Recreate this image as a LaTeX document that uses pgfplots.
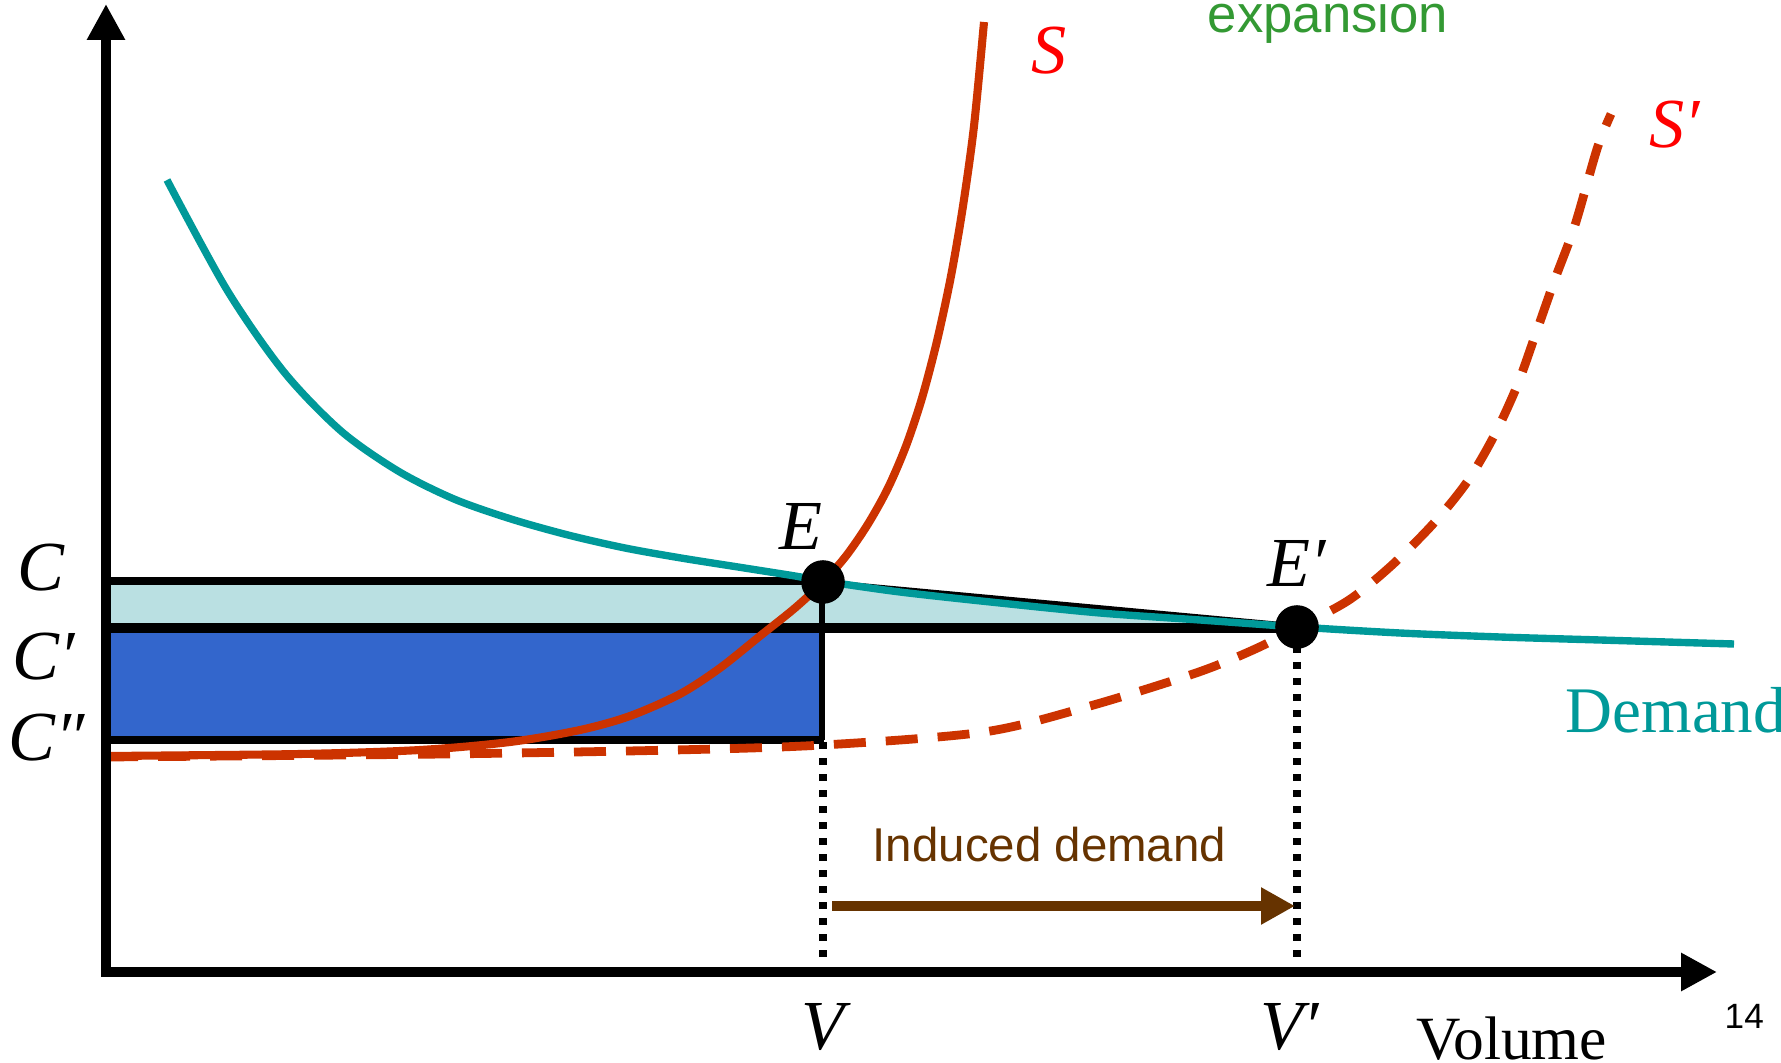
\documentclass[border=0pt]{standalone}
\usepackage{pgfplots}
\pgfplotsset{compat=1.18}
\usepackage{fontspec}
\setmainfont{Liberation Serif}
\newfontfamily\arial{Liberation Sans}
\usetikzlibrary{arrows.meta}

\definecolor{teal}{RGB}{0,153,153}
\definecolor{supply}{RGB}{204,51,0}
\definecolor{lightfill}{RGB}{186,224,226}
\definecolor{darkfill}{RGB}{51,102,204}
\definecolor{brownc}{RGB}{102,51,0}
\definecolor{greenc}{RGB}{51,153,51}

\newcommand{\lab}{\fontsize{20}{24}\selectfont\itshape}

\begin{document}
\begin{tikzpicture}
\begin{axis}[
  scale only axis, width=17.81cm, height=10.63cm,
  xmin=0, xmax=1781, ymin=0, ymax=1063, y dir=reverse,
  axis lines=none, clip=false,
]
% shaded areas
\addplot[fill=lightfill, draw=none] coordinates {(106,581) (823,581) (1298,627) (106,627)} -- cycle;
\addplot[fill=darkfill, draw=none] coordinates {(106,628) (822,628) (822,740) (106,740)} -- cycle;

% outlines
\addplot[black, line width=2.4pt] coordinates {(106,581) (823,581)};
\addplot[black, line width=2.6pt] coordinates {(106,628) (1298,628)};
\addplot[black, line width=2.4pt] coordinates {(106,740) (824,740)};
\addplot[black, line width=1.9pt] coordinates {(822,581) (822,740)};
\addplot[black, line width=1.4pt] coordinates {(823,582) (1298,626)};

% dotted drops
\addplot[black, line width=2.1pt, dash pattern=on 0.07cm off 0.09cm] coordinates {(823,742) (823,966)};
\addplot[black, line width=2.1pt, dash pattern=on 0.07cm off 0.09cm] coordinates {(1297,630) (1297,966)};

% supply S
\addplot[supply, line width=2.3pt, smooth] coordinates {
  (106,756) (300,754) (420,750) (510,742) (580,730) (630,716) (680,694)
  (720,668) (760,636) (795,608) (823,582) (846,556) (868,524) (888,488)
  (906,446) (922,398) (937,341) (951,276) (963,206) (974,126) (984,22)
};
% supply S'
\addplot[supply, line width=2.5pt, smooth, dash pattern=on 0.32cm off 0.2cm] coordinates {
  (106,757) (444,754) (674,750) (823,745) (984,732) (1090,706) (1196,673)
  (1253,650) (1299,627) (1349,600) (1391,566) (1433,524) (1467,482)
  (1494,436) (1517,386) (1536,333) (1555,279) (1575,225) (1597,149) (1611,114)
};
% demand
\addplot[teal, line width=2.1pt, smooth] coordinates {
  (167,180) (227,290) (284,372) (341,431) (398,471) (454,499) (511,519)
  (568,535) (625,548) (681,558) (738,567) (795,576) (823,581) (900,592)
  (1000,603) (1100,613) (1200,620) (1298,627) (1400,633) (1500,637)
  (1600,640) (1700,643) (1734,644)
};

% axes
\draw[line width=3.1pt, line join=miter,
  {Triangle[length=0.36cm,width=0.36cm]}-{Triangle[length=0.36cm,width=0.36cm]}]
  (axis cs:106,4) -- (axis cs:106,972) -- (axis cs:1717,972);

% equilibria
\addplot[only marks, mark=*, mark size=6pt, black] coordinates {(823,582) (1297,627)};

% induced demand arrow
\draw[brownc, line width=2.85pt, -{Triangle[length=0.34cm,width=0.35cm]}]
  (axis cs:832,906) -- (axis cs:1295,906);

% labels
\tikzset{every node/.style={inner sep=0pt, anchor=base west}}
\node at (axis cs:17,591) {\lab C};
\node at (axis cs:12,680) {\lab C′};
\node at (axis cs:8,760) {\lab C″};
\node at (axis cs:779,550) {\lab E};
\node at (axis cs:1267,587) {\lab E′};
\node[text=red] at (axis cs:1031,74) {\lab S};
\node[text=red] at (axis cs:1649,148) {\lab S′};
\node at (axis cs:801,1049) {\lab V};
\node at (axis cs:1260,1049) {\lab V′};
\node at (axis cs:1416,1059) {\fontsize{17.5}{20}\selectfont Volume};
\node[text=teal] at (axis cs:1565,732) {\fontsize{18.5}{22}\selectfont Demand};
\node[text=brownc] at (axis cs:872,861) {\arial\fontsize{13.5}{16}\selectfont Induced demand};
\node[text=greenc] at (axis cs:1207,33) {\arial\fontsize{15}{18}\selectfont expansion};
\node at (axis cs:1724,1028) {\arial\fontsize{10}{12}\selectfont 14};
\end{axis}
\pgfresetboundingbox
\path (current axis.south west) rectangle (current axis.north east);
\end{tikzpicture}
\end{document}
